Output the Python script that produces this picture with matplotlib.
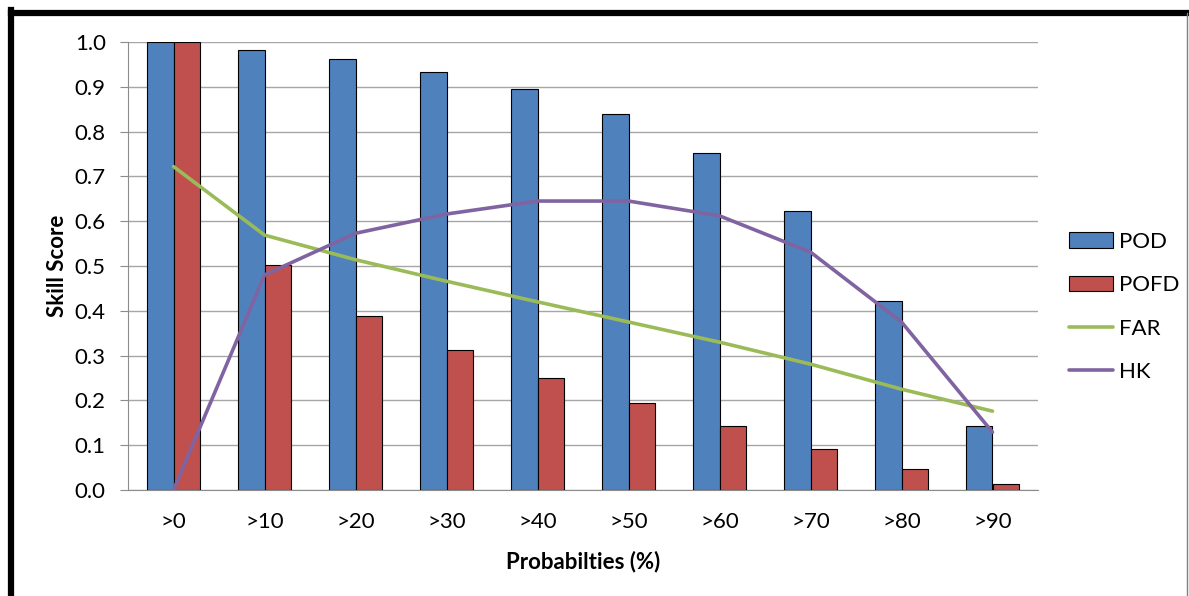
import numpy as np
import matplotlib
matplotlib.use("Agg")
import matplotlib.pyplot as plt
from matplotlib.lines import Line2D

plt.rcParams['font.family'] = ['Lato', 'DejaVu Sans']

# Skill scores per probability threshold
categories = [">0", ">10", ">20", ">30", ">40", ">50", ">60", ">70", ">80", ">90"]
pod = [1.0, 0.982, 0.962, 0.934, 0.896, 0.839, 0.753, 0.623, 0.422, 0.143]
pofd = [1.0, 0.502, 0.389, 0.313, 0.249, 0.194, 0.143, 0.092, 0.047, 0.013]
far = [0.722, 0.569, 0.514, 0.466, 0.420, 0.375, 0.330, 0.281, 0.225, 0.176]
hk = [0.0, 0.480, 0.573, 0.616, 0.645, 0.645, 0.612, 0.531, 0.375, 0.129]

c_pod = '#4F81BD'
c_pofd = '#C0504D'
c_far = '#9BBB59'
c_hk = '#8064A2'

fs = 16

fig = plt.figure(figsize=(11.89, 5.96), dpi=100)
ax = fig.add_axes([128 / 1189, 1 - 490 / 596, 910 / 1189, 448 / 596])

x = np.arange(len(categories))
w = 0.286
b1 = ax.bar(x - w / 2, pod, width=w, color=c_pod, edgecolor='black', linewidth=0.8, zorder=3, label='POD')
b2 = ax.bar(x + w / 2, pofd, width=w, color=c_pofd, edgecolor='black', linewidth=0.8, zorder=3, label='POFD')
l1, = ax.plot(x, far, color=c_far, linewidth=2.6, zorder=4, label='FAR', solid_capstyle='round')
l2, = ax.plot(x, hk, color=c_hk, linewidth=2.6, zorder=4, label='HK', solid_capstyle='round')

ax.set_xlim(-0.5, len(categories) - 0.5)
ax.set_ylim(0, 1.0)
ax.set_yticks(np.arange(0, 1.01, 0.1))
ax.set_yticklabels([f"{v:.1f}" for v in np.arange(0, 1.01, 0.1)])
ax.set_xticks(x)
ax.set_xticklabels(categories)

ax.grid(axis='y', color='#a6a6a6', linewidth=1.0, zorder=0)
for side in ['top', 'right']:
    ax.spines[side].set_visible(False)
ax.spines['left'].set_color('#8c8c8c')
ax.spines['bottom'].set_color('#8c8c8c')
ax.tick_params(axis='y', length=6, color='#8c8c8c', pad=10, labelsize=fs)
ax.tick_params(axis='x', length=0, pad=16, labelsize=fs)

ax.set_ylabel('Skill Score', fontsize=fs, fontweight='bold', labelpad=5)
ax.set_xlabel('Probabilties (%)', fontsize=fs, fontweight='bold', labelpad=13)

fig.legend([b1, b2, l1, l2], ['POD', 'POFD', 'FAR', 'HK'], loc='center left',
           bbox_to_anchor=(1049 / 1189, 1 - 307 / 596),
           frameon=False, fontsize=fs, handlelength=2.0, handletextpad=0.25, labelspacing=1.05)

# Chart frame: heavy black on top and left, thin grey on the right
fig.add_artist(Line2D([10.5 / 1189, 10.5 / 1189], [0, 1 - 10 / 596], transform=fig.transFigure,
                      color='black', linewidth=4.5, solid_capstyle='projecting'))
fig.add_artist(Line2D([10.5 / 1189, 1187 / 1189], [1 - 13 / 596, 1 - 13 / 596], transform=fig.transFigure,
                      color='black', linewidth=4.5, solid_capstyle='projecting'))
fig.add_artist(Line2D([1187 / 1189, 1187 / 1189], [0, 1 - 13 / 596], transform=fig.transFigure,
                      color='#7f7f7f', linewidth=1.0))

fig.savefig('out.png', dpi=100)
